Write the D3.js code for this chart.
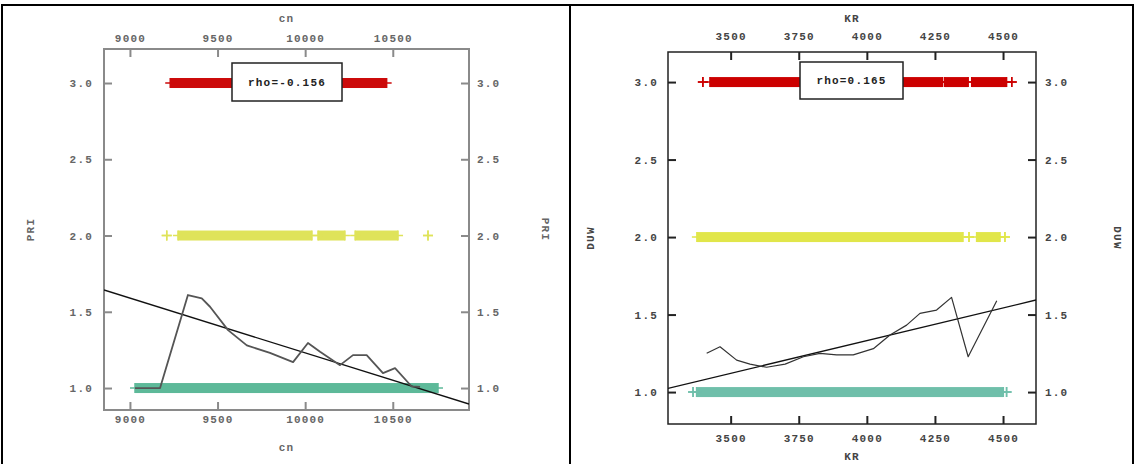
<!DOCTYPE html>
<html><head><meta charset="utf-8">
<script src="https://cdn.jsdelivr.net/npm/d3@7"></script>
<style>
html,body{margin:0;padding:0;background:#fff;}
svg text{font-family:"Liberation Mono","DejaVu Sans Mono",monospace;font-size:11px;font-weight:bold;letter-spacing:1.2px;}
</style></head>
<body>
<svg id="c" width="1134" height="464"></svg>
<script>
// ---------- DATA ----------
// Left panel
const leftXDomain = [8852, 10935];
const leftYDomain = [0.856, 3.223];
const leftXTicks = [9000, 9500, 10000, 10500];
const leftYTicks = [1.0, 1.5, 2.0, 2.5, 3.0];
const leftRed = [[9230, 10465]];
const leftYellow = [[9210, 9210], [9274, 10039], [10073, 10227], [10285, 10530], [10701, 10701]];
const leftTeal = [[9029, 10758]];
const leftCurveX = [9029, 9172, 9331, 9410, 9457, 9560, 9667, 9799, 9931, 10016, 10085, 10199, 10273, 10351, 10444, 10513, 10608, 10656];
const leftCurveY = [1.0, 1.0, 1.61, 1.588, 1.533, 1.38, 1.28, 1.23, 1.17, 1.295, 1.238, 1.15, 1.216, 1.216, 1.098, 1.131, 1.01, 1.008];
const leftFitX = [8852, 10935];
const leftFitY = [1.643, 0.895];
const leftRho = "rho=-0.156";
const leftXTitle = "cn";
const leftYTitle = "PRI";

// Right panel
const rightXDomain = [3270, 4621];
const rightYDomain = [0.794, 3.194];
const rightXTicks = [3500, 3750, 4000, 4250, 4500];
const rightYTicks = [1.0, 1.5, 2.0, 2.5, 3.0];
const rightRed = [[3398, 3398], [3424, 4278], [4286, 4372], [4385, 4513], [4532, 4532]];
const rightYellow = [[3376, 4353], [4375, 4375], [4403, 4489], [4507, 4507]];
const rightTeal = [[3362, 3362], [3375, 4501], [4513, 4513]];
const rightCurveX = [3412, 3461, 3522, 3571, 3632, 3700, 3767, 3828, 3889, 3950, 4024, 4085, 4146, 4195, 4256, 4311, 4372, 4477];
const rightCurveY = [1.25, 1.292, 1.206, 1.18, 1.16, 1.18, 1.228, 1.25, 1.24, 1.24, 1.28, 1.368, 1.432, 1.508, 1.529, 1.611, 1.228, 1.589];
const rightFitX = [3270, 4621];
const rightFitY = [1.024, 1.594];
const rightRho = "rho=0.165";
const rightXTitle = "KR";
const rightYTitle = "DUW";

// ---------- DRAW ----------
const svg = d3.select("#c");

// outer frame and divider
svg.append("line").attr("x1",2).attr("x2",1134).attr("y1",5).attr("y2",5).attr("stroke","#000").attr("stroke-width",2);
svg.append("line").attr("x1",2).attr("x2",2).attr("y1",4).attr("y2",464).attr("stroke","#000").attr("stroke-width",2);
svg.append("line").attr("x1",570).attr("x2",570).attr("y1",4).attr("y2",464).attr("stroke","#000").attr("stroke-width",2);
svg.append("line").attr("x1",1133).attr("x2",1133).attr("y1",4).attr("y2",464).attr("stroke","#000").attr("stroke-width",2);

function panel(o) {
  const g = svg.append("g");
  const x = d3.scaleLinear().domain(o.xDomain).range([o.left, o.right]);
  const y = d3.scaleLinear().domain(o.yDomain).range([o.bottom, o.top]);
  const id = "clip" + o.left;
  svg.append("clipPath").attr("id", id).append("rect")
    .attr("x", o.left).attr("y", o.top).attr("width", o.right - o.left).attr("height", o.bottom - o.top);

  const fmtY = d3.format(".1f");
  const axes = [
    {a: d3.axisLeft(y).tickValues(o.yTicks).tickFormat(fmtY).tickPadding(o.padL), t: `translate(${o.left},0)`},
    {a: d3.axisRight(y).tickValues(o.yTicks).tickFormat(fmtY).tickPadding(o.padR), t: `translate(${o.right},0)`},
    {a: d3.axisTop(x).tickValues(o.xTicks).tickFormat(d3.format("d")).tickPadding(o.padT), t: `translate(0,${o.top})`},
    {a: d3.axisBottom(x).tickValues(o.xTicks).tickFormat(d3.format("d")).tickPadding(o.padB), t: `translate(0,${o.bottom})`}
  ];
  axes.forEach(ax => {
    const ag = g.append("g").attr("transform", ax.t).call(ax.a.tickSizeInner(-8).tickSizeOuter(0));
    ag.select(".domain").remove();
    ag.selectAll(".tick line").attr("stroke", o.axisColor).attr("stroke-width", 2);
    ag.selectAll(".tick text").attr("fill", o.textColor).style("font-family", null).style("font-size", null).attr("font-family", null).attr("font-size", null);
  });
  g.append("rect").attr("x", o.left).attr("y", o.top).attr("width", o.right - o.left).attr("height", o.bottom - o.top)
    .attr("fill", "none").attr("stroke", o.axisColor).attr("stroke-width", o.frameW);

  const cx = (o.left + o.right) / 2;
  g.append("text").attr("x", cx).attr("y", o.titleTopY).attr("text-anchor", "middle").attr("fill", o.textColor).text(o.xTitle);
  g.append("text").attr("x", cx).attr("y", o.titleBotY).attr("text-anchor", "middle").attr("fill", o.textColor).text(o.xTitle);
  const cy = (o.top + o.bottom) / 2;
  g.append("text").attr("transform", `translate(${o.yTitleL},${cy}) rotate(-90)`).attr("text-anchor", "middle").attr("dy", "0.35em").attr("fill", o.textColor).text(o.yTitle);
  g.append("text").attr("transform", `translate(${o.yTitleR},${cy}) rotate(90)`).attr("text-anchor", "middle").attr("dy", "0.35em").attr("fill", o.textColor).text(o.yTitle);

  const pg = g.append("g").attr("clip-path", `url(#${id})`);
  // strips of + markers
  o.strips.forEach(s => {
    s.segs.forEach(seg => {
      pg.append("rect").attr("x", x(seg[0])).attr("y", y(s.level) - 5)
        .attr("width", Math.max(0, x(seg[1]) - x(seg[0]))).attr("height", 10).attr("fill", s.color);
      seg.forEach(v => {
        const px = x(v), py = y(s.level);
        pg.append("path").attr("d", `M${px-5},${py}H${px+5}M${px},${py-5}V${py+5}`)
          .attr("stroke", s.color).attr("stroke-width", 1.5).attr("fill", "none");
      });
    });
  });
  // fit line
  const ln = d3.line().x(d => x(d[0])).y(d => y(d[1]));
  pg.append("path").attr("d", ln(o.fitX.map((v, i) => [v, o.fitY[i]])))
    .attr("fill", "none").attr("stroke", "#111").attr("stroke-width", 1.3);
  // smooth curve
  pg.append("path").attr("d", ln(o.curveX.map((v, i) => [v, o.curveY[i]])))
    .attr("fill", "none").attr("stroke", o.curveColor).attr("stroke-width", o.curveW).attr("stroke-linejoin", "round");

  // rho box
  g.append("rect").attr("x", o.rhoBox[0]).attr("y", o.rhoBox[1]).attr("width", o.rhoBox[2]).attr("height", o.rhoBox[3])
    .attr("fill", "#fff").attr("stroke", "#222").attr("stroke-width", 1.5);
  g.append("text").attr("x", o.rhoBox[0] + o.rhoBox[2] / 2).attr("y", o.rhoBox[1] + o.rhoBox[3] / 2).attr("dy", "0.35em")
    .attr("text-anchor", "middle").attr("fill", "#222").text(o.rho);
}

panel({
  left: 104, right: 469, top: 49, bottom: 410,
  xDomain: leftXDomain, yDomain: leftYDomain, xTicks: leftXTicks, yTicks: leftYTicks,
  padL: 11, padR: 8, padT: 7, padB: 5,
  axisColor: "#8a8a8a", textColor: "#666", frameW: 2,
  titleTopY: 22, titleBotY: 451, yTitleL: 30, yTitleR: 546,
  xTitle: leftXTitle, yTitle: leftYTitle,
  strips: [
    {level: 3, color: "#cc0a0a", segs: leftRed},
    {level: 2, color: "#dfe35a", segs: leftYellow},
    {level: 1, color: "#5db999", segs: leftTeal}
  ],
  fitX: leftFitX, fitY: leftFitY, curveX: leftCurveX, curveY: leftCurveY,
  curveColor: "#555", curveW: 1.8,
  rhoBox: [232, 63, 110, 38], rho: leftRho
});

panel({
  left: 668, right: 1036, top: 52, bottom: 424,
  xDomain: rightXDomain, yDomain: rightYDomain, xTicks: rightXTicks, yTicks: rightYTicks,
  padL: 10, padR: 9, padT: 12, padB: 10,
  axisColor: "#222", textColor: "#444", frameW: 1.5,
  titleTopY: 22, titleBotY: 460, yTitleL: 590, yTitleR: 1118,
  xTitle: rightXTitle, yTitle: rightYTitle,
  strips: [
    {level: 3, color: "#cc0000", segs: rightRed},
    {level: 2, color: "#e1e64a", segs: rightYellow},
    {level: 1, color: "#6fbfaa", segs: rightTeal}
  ],
  fitX: rightFitX, fitY: rightFitY, curveX: rightCurveX, curveY: rightCurveY,
  curveColor: "#333", curveW: 1.2,
  rhoBox: [800, 62, 103, 37], rho: rightRho
});
</script>
</body></html>
